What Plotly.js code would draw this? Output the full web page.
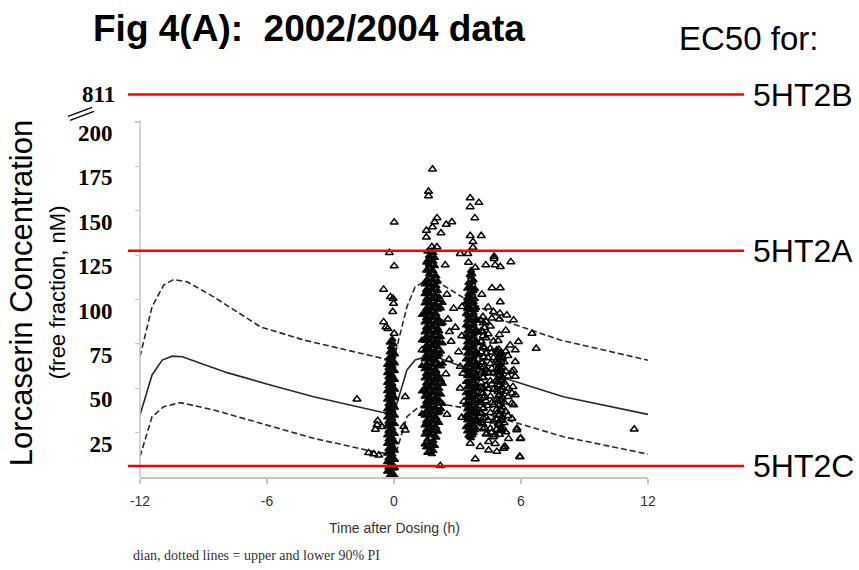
<!DOCTYPE html>
<html><head><meta charset="utf-8">
<script src="https://cdn.plot.ly/plotly-3.0.1.min.js"></script>
<style>html,body{margin:0;padding:0;background:#fff;} #chart{width:859px;height:570px;}</style>
</head><body><div id="chart"></div>
<script>
// ---- curves (model median and 90% prediction interval) ----
const medianTime = [-12, -11.43, -10.95, -10.48, -10.0, -7.88, -5.84, -3.8, -0.57, 0, 0.14, 0.61, 1.0, 1.4, 2.19, 3.45, 5.49, 8.0, 12];
const medianConc = [34.9, 57.5, 65.9, 68.1, 67.8, 58.8, 51.8, 45.2, 36.5, 35.3, 41.5, 60.3, 65.9, 67.4, 66.8, 61.2, 54.6, 45.2, 35.3];
const upperTime = [-12, -11.43, -10.88, -10.41, -9.77, -8.52, -6.31, -4.27, -0.57, 0, 0.14, 0.61, 1.0, 1.4, 2.19, 3.45, 5.34, 7.85, 12];
const upperConc = [67.8, 95.9, 108.1, 111.3, 110.0, 101.5, 84.6, 77.2, 66.9, 65.5, 73.4, 95.9, 107.1, 110.0, 109.0, 99.7, 87.4, 77.2, 65.8];
const lowerTime = [-12, -11.43, -10.88, -10.09, -8.52, -6.31, -3.8, -0.96, 0, 0.14, 0.61, 1.09, 1.56, 2.5, 3.45, 5.34, 8.0, 12];
const lowerConc = [11.5, 34.0, 39.6, 41.9, 37.8, 30.3, 21.8, 14.3, 12.6, 15.3, 34.0, 38.7, 41.1, 40.6, 38.7, 32.1, 22.7, 12.9];

// ---- observations: isolated points ----
const scatterTime = [1.82,1.63,1.63,0.01,2.03,1.92,1.82,2.47,2.73,1.53,1.53,2.22,1.79,2.03,3.6,4.01,3.6,3.82,3.6,4.12,3.73,3.73,3.13,3.49,4.73,4.73,5.52,2.42,3.52,3.84,4.34,4.78,5.02,2.5,4.63,5.02,5.02,4.15,2.82,3.21,5.0,5.33,5.65,2.62,1.32,3.13,3.13,0.53,0.46,0.53,2.19,3.84,3.6,4.07,4.47,4.86,5.25,4.39,4.78,5.1,5.57,5.81,5.49,5.73,5.57,5.41,5.57,6.52,6.72,5.88,5.73,5.65,5.73,5.65,5.8,5.99,5.21,5.93,11.35,-1.75,-0.77,-0.8,-0.88,-0.57,-1.2,-0.96,-0.72,-0.22,0.01,-0.49,-0.17,-0.05,-0.02,-0.06,-0.49,-0.38,-0.29,0.01,5.73,5.62,5.57,5.96,5.96,5.18,4.47,4.78,5.41,
  2.55,2.7,2.9,3.05,3.25,2.6,3.2,2.45,3.3,3.2,2.5];
const scatterConc = [173.4,160.9,158.4,143.5,146,143.7,140.9,142.3,143.7,138.9,135.1,137.5,129.6,129.6,157.2,154.6,152.2,146,135.9,135.9,132.5,129.3,125.8,125.8,124.3,123,121.2,119.4,120.9,118,119.4,119.4,118.5,102.9,106.5,106.5,98.6,102.9,95,95.9,92.2,91.2,88.4,81.8,71.5,62.2,50,45.2,28.4,26.4,6.4,10.1,18.9,17.1,19.9,14.3,17.1,24.6,23.7,26.5,33,27.4,74.3,71.5,59.3,49.9,41.5,80.9,72.4,76.2,64.9,60.2,46.2,40.6,26.5,21.8,17.1,11.5,26.9,43.8,31.7,29.3,26.8,28.3,13.6,13,12.2,126.3,118.9,105.7,101.5,100.6,97.8,93.1,87.4,84.5,83.6,80.9,56.6,50.9,47.2,21.6,11.3,16,15.1,18.8,21.6,
  88.9,76.3,84.2,70.5,58.3,66.2,79.4,58.1,42.6,33.5,35.2];

// ---- observations: saturated sampling cores (time of strand, concentrations along it) ----
const coreTime = [-0.32, -0.26, -0.2, -0.14, -0.08, -0.02, 0.04,
  1.32, 1.45, 1.52, 1.58, 1.65, 1.72, 1.79, 1.86, 1.93, 2.0, 2.07, 2.14, 2.22, 2.3,
  3.4, 3.46, 3.52, 3.58, 3.64, 3.7, 3.76, 3.82, 3.88, 3.94, 4.0];
const coreConc = [
  [3.1, 8.4, 13.2, 18.7, 23.5, 28.9, 33.6, 38.2, 43.7, 48.5, 53.1, 58.6, 63.2],
  [5.4, 10.6, 15.9, 21.2, 26.1, 31.3, 36.4, 41.1, 46.2, 51.2, 56.3, 61.4, 66.8],
  [0.8, 5.6, 10.9, 15.3, 20.8, 25.7, 30.4, 35.9, 40.6, 45.2, 50.7, 55.4, 60.9, 65.5, 70.3, 75.8],
  [3.2, 8.1, 13.4, 18.2, 23.1, 28.3, 33.2, 38.4, 43.1, 48.3, 53.4, 58.3, 63.5, 68.2, 73.4],
  [2.4, 7.3, 12.8, 17.6, 22.1, 27.4, 32.9, 37.5, 42.3, 47.8, 52.6, 57.2, 62.7, 67.9, 72.5, 77.6],
  [0.3, 4.8, 10.2, 15.1, 20.2, 25.1, 30.2, 35.3, 40.1, 45.6, 50.1, 55.2, 60.1, 65.2, 70.1, 74.8],
  [0.5, 5.2, 9.7, 14.9, 19.6, 24.3, 29.8, 34.6, 39.1, 44.4, 49.3, 54.8, 59.7, 64.1, 69.2],
  [35.6, 48.3, 62.7, 77.1, 91.4],
  [18.4, 23.9, 29.1, 34.6, 39.8, 45.3, 50.2, 55.7, 60.9, 66.4, 71.3, 76.8, 81.6, 87.2, 92.5, 97.9, 103.1, 108.6],
  [16.7, 26.4, 31.6, 37.1, 42.5, 47.7, 52.8, 58.2, 63.4, 68.7, 73.9, 79.1, 84.2, 89.6, 94.8, 100.2, 105.5, 110.7, 116.4, 120.9],
  [13.6, 21.2, 26.5, 31.8, 37.3, 42.4, 47.9, 53.1, 58.5, 63.6, 69.1, 74.2, 79.5, 84.8, 90.1, 95.3, 100.7, 105.9, 111.2, 116.5, 121.8, 127.1],
  [18.9, 24.3, 29.8, 35.2, 40.4, 45.7, 51.1, 56.3, 61.8, 66.9, 72.2, 77.6, 82.7, 88.1, 93.3, 98.6, 103.8, 109.2, 114.3, 119.7, 124.6],
  [16.1, 23.7, 28.8, 34.1, 39.5, 44.7, 50.1, 55.4, 60.6, 65.9, 71.2, 76.5, 81.9, 87.1, 92.4, 97.6, 102.9, 108.3, 113.6, 118.8, 124.1],
  [12.9, 19.1, 26.9, 31.7, 37.2, 42.3, 47.6, 53.0, 58.1, 63.5, 68.8, 74.1, 79.3, 84.6, 89.9, 95.2, 100.4, 105.8, 111.1, 116.3, 121.7, 127.4],
  [14.8, 20.4, 25.7, 31.2, 36.4, 41.8, 47.2, 52.5, 57.8, 63.1, 68.4, 73.6, 78.9, 84.3, 89.6, 94.8, 100.1, 105.4, 110.7, 116.1, 121.4, 126.3],
  [17.6, 23.1, 28.4, 33.8, 39.1, 44.4, 49.8, 55.1, 60.4, 65.7, 71.0, 76.3, 81.6, 86.9, 92.2, 97.4, 102.8, 108.1, 113.4, 118.9, 123.5],
  [22.3, 27.9, 33.4, 38.6, 44.1, 49.3, 54.7, 59.9, 65.3, 70.6, 75.8, 81.2, 86.5, 91.7, 97.1, 102.4, 107.6, 113.1],
  [25.6, 30.8, 36.1, 41.4, 46.7, 52.1, 57.3, 62.7, 67.9, 73.2, 78.6, 83.8, 89.1, 94.4, 99.7, 104.9, 110.3],
  [30.5, 36.9, 43.4, 49.8, 56.2, 62.7, 69.1, 75.6, 82.1, 88.4, 94.9, 101.3],
  [38.3, 46.5, 54.6, 62.4, 70.7, 78.9, 86.2, 95.1],
  [41.2, 52.6, 63.9, 75.3, 86.8, 98.2],
  [28.2, 34.5, 40.9, 47.3, 53.6, 60.1, 66.4, 72.8, 79.2, 85.5, 91.9, 98.3],
  [25.8, 31.9, 38.2, 44.5, 50.7, 57.0, 63.3, 69.6, 75.9, 82.1, 88.4, 94.7, 100.9, 106.2],
  [23.4, 29.3, 35.7, 41.6, 47.8, 53.9, 60.2, 66.3, 72.5, 78.6, 84.8, 90.9, 97.2, 103.3, 109.5],
  [22.6, 28.1, 34.2, 40.3, 46.4, 52.5, 58.7, 64.8, 70.9, 77.1, 83.2, 89.4, 95.5, 101.7, 107.9, 113.8],
  [21.9, 26.1, 32.4, 38.5, 44.7, 50.8, 57.1, 63.2, 69.4, 75.5, 81.7, 87.9, 94.1, 100.2, 106.4, 112.6, 116.3],
  [23.5, 29.4, 35.6, 41.8, 47.9, 54.1, 60.3, 66.5, 72.6, 78.8, 84.9, 91.1, 97.3, 103.4, 109.6, 114.2],
  [24.8, 30.9, 37.1, 43.2, 49.4, 55.6, 61.7, 67.9, 74.1, 80.3, 86.4, 92.6, 98.7, 104.9, 110.8],
  [26.3, 32.5, 38.7, 44.9, 51.0, 57.2, 63.4, 69.5, 75.7, 81.9, 88.0, 94.2, 100.4, 106.1],
  [27.5, 33.6, 39.8, 46.1, 52.3, 58.4, 64.6, 70.8, 76.9, 83.1, 89.3, 95.4],
  [36.2, 49.5, 62.1, 75.3, 88.1],
  [31.2, 42.5, 55.3, 68.7, 81.4]
];
// ---- observations: looser band after the 4 h samples ----
const bandTime = [4.1, 4.12, 4.2, 4.22, 4.28, 4.35, 4.45, 4.55, 4.62, 4.7, 4.85, 4.92, 4.95, 4.98, 5.05, 5.06, 5.12, 5.2, 5.28, 5.38];
const bandConc = [
  [35.6, 50.3, 61.8, 76.4, 88.2],
  [30.4, 36.1, 41.8, 47.5, 53.3, 58.9, 64.7, 70.4, 76.2, 82.3],
  [29.8, 38.4, 47.1, 55.9, 64.6, 73.2, 81.7, 90.3],
  [27.1, 33.2, 38.9, 44.6, 50.4, 56.1, 61.8, 67.6, 73.3, 79.5, 86.8],
  [27.9, 45.6, 58.3, 72.7, 84.1],
  [24.1, 33.5, 42.8, 51.6, 60.4, 69.7, 78.3, 87.6],
  [31.8, 40.2, 49.7, 58.8, 67.1, 80.6, 95.7],
  [27.3, 36.2, 45.5, 54.1, 63.8, 72.4, 84.9],
  [25.1, 41.9, 52.3, 61.2, 70.3, 89.4],
  [22.6, 31.4, 40.7, 49.3, 58.6, 67.2, 76.5, 93.1],
  [26.8, 32.4, 38.1, 43.6, 49.2, 54.7, 60.3, 65.8, 71.4],
  [30.1, 36.7, 42.9, 48.1, 53.8, 59.2, 64.5, 70.2, 76.8],
  [29.4, 34.8, 40.1, 45.5, 50.9, 56.2, 61.6, 67.0, 71.8],
  [23.9, 29.6, 35.2, 40.8, 46.3, 51.9, 57.4, 63.1, 68.7, 80.2, 88.9],
  [26.2, 31.9, 37.6, 43.4, 49.1, 54.6, 60.7, 66.1],
  [27.2, 32.6, 37.9, 43.2, 48.7, 54.1, 59.4, 64.8, 70.1],
  [28.1, 33.7, 39.4, 44.9, 50.6, 56.2, 61.8, 67.3],
  [30.6, 42.1, 53.4, 64.8],
  [25.4, 36.8, 48.2, 59.5, 70.9, 82.6],
  [34.5, 45.2, 56.7, 68.3]
];

// ---- EC50 reference lines ----
const ec50Labels = ['5HT2B', '5HT2A', '5HT2C'];
const ec50Values = [811, 127.5, 6.2];
const yTickVals = [25, 50, 75, 100, 125, 150, 175, 200];
const xTickVals = [-12, -6, 0, 6, 12];

// axis break: values above the top of the axis are drawn at this position
const AXIS_TOP = 200, BREAK_POS = 215.5;
function shownY(v) { return v > AXIS_TOP ? BREAK_POS : v; }

function flatten(times, concs) {
  const xs = [], ys = [];
  times.forEach((t, i) => concs[i].forEach(c => { xs.push(t); ys.push(c); }));
  return {xs, ys};
}
const core = flatten(coreTime, coreConc);
const band = flatten(bandTime, bandConc);
const openX = scatterTime.concat(band.xs), openY = scatterConc.concat(band.ys);

const curveLine = {color: '#2a2a2a', width: 1.6};
const traces = [
  {x: upperTime, y: upperConc, mode: 'lines', line: Object.assign({dash: '6px,3px'}, curveLine), hoverinfo: 'skip'},
  {x: lowerTime, y: lowerConc, mode: 'lines', line: Object.assign({dash: '6px,3px'}, curveLine), hoverinfo: 'skip'},
  {x: medianTime, y: medianConc, mode: 'lines', line: curveLine, hoverinfo: 'skip'},
  {x: core.xs, y: core.ys, mode: 'markers', marker: {symbol: 'triangle-up', size: 6.5, color: '#0a0a0a', line: {width: 1.2, color: '#0a0a0a'}}},
  {x: openX, y: openY, mode: 'markers', marker: {symbol: 'triangle-up-open', size: 7, color: '#000', line: {width: 1.5, color: '#000'}}}
];

const W = 859, H = 570;
const L = 140, R = 211, T = 82.6, B = 92.9;
const plotW = W - L - R, plotH = H - T - B;
const px2paperX = p => (p - L) / plotW;
const px2paperY = p => (H - B - p) / plotH;

const shapes = [
  {type: 'line', xref: 'paper', yref: 'y', x0: 0, x1: 0, y0: 0, y1: AXIS_TOP + 1, line: {color: '#c4c4c4', width: 1.5}},
  {type: 'line', xref: 'paper', yref: 'paper', x0: px2paperX(68), x1: px2paperX(92), y0: px2paperY(116), y1: px2paperY(107), line: {color: '#000', width: 1.3}},
  {type: 'line', xref: 'paper', yref: 'paper', x0: px2paperX(70), x1: px2paperX(94), y0: px2paperY(120), y1: px2paperY(111), line: {color: '#000', width: 1.3}}
];
const annotations = [
  {xref: 'paper', yref: 'paper', x: px2paperX(677), y: px2paperY(38), xanchor: 'left', yanchor: 'middle', showarrow: false,
   text: 'EC50 for:', font: {family: 'Liberation Sans, Arial', size: 33, color: '#000'}},
  {xref: 'paper', yref: 'paper', x: px2paperX(21), y: px2paperY(293), textangle: -90, xanchor: 'center', yanchor: 'middle', showarrow: false,
   text: 'Lorcaserin Concentration', font: {family: 'Liberation Sans, Arial', size: 31, color: '#000'}},
  {xref: 'paper', yref: 'paper', x: px2paperX(57), y: px2paperY(292), textangle: -90, xanchor: 'center', yanchor: 'middle', showarrow: false,
   text: '(free fraction, nM)', font: {family: 'Liberation Sans, Arial', size: 22, color: '#000'}},
  {xref: 'paper', yref: 'paper', x: 0.5, y: px2paperY(528), xanchor: 'center', yanchor: 'middle', showarrow: false,
   text: 'Time after Dosing (h)', font: {family: 'Liberation Sans Narrow, Liberation Sans, Arial', size: 14, color: '#333'}},
  {xref: 'paper', yref: 'paper', x: px2paperX(131), y: px2paperY(556), xanchor: 'left', yanchor: 'middle', showarrow: false,
   text: 'dian, dotted lines = upper and lower 90% PI', font: {family: 'Liberation Serif, Times New Roman', size: 14, color: '#333'}},
  {xref: 'paper', yref: 'y', x: px2paperX(117), y: shownY(811), xanchor: 'right', yanchor: 'middle', showarrow: false,
   text: '<b>811</b>', font: {family: 'Liberation Serif, Times New Roman', size: 23, color: '#000'}}
];
ec50Values.forEach((v, i) => {
  shapes.push({type: 'line', layer: 'above', xref: 'paper', yref: 'y', x0: px2paperX(128), x1: px2paperX(744), y0: shownY(v), y1: shownY(v),
               line: {color: '#ff0000', width: 2.5}});
  annotations.push({xref: 'paper', yref: 'y', x: px2paperX(751), y: shownY(v), xanchor: 'left', yanchor: 'middle', showarrow: false,
                    text: ec50Labels[i], font: {family: 'Liberation Sans, Arial', size: 32, color: '#000'}});
});

const layout = {
  width: W, height: H, showlegend: false,
  paper_bgcolor: '#fff', plot_bgcolor: 'rgba(0,0,0,0)',
  margin: {l: L, r: R, t: T, b: B, pad: 0},
  title: {text: '<b>Fig 4(A):  2002/2004 data</b>', x: 93 / W, xanchor: 'left', xref: 'container', y: 1 - 28 / H, yanchor: 'middle', yref: 'container',
          font: {family: 'Liberation Sans, Arial', size: 37, color: '#000'}},
  xaxis: {range: [-12, 12], tickvals: xTickVals, ticktext: xTickVals.map(String), showgrid: false, zeroline: false,
          showline: true, linecolor: '#c4c4c4', linewidth: 1.5, ticks: 'outside', ticklen: 5, tickcolor: '#c4c4c4', tickwidth: 1.2,
          ticklabelstandoff: 6,
          tickfont: {family: 'Liberation Sans Narrow, Liberation Sans, Arial', size: 14, color: '#333'}, fixedrange: true},
  yaxis: {range: [0, 222], tickvals: yTickVals, ticktext: yTickVals.map(v => '<b>' + v + '</b>'), showgrid: false, zeroline: false,
          showline: false, ticks: 'outside', ticklen: 4, tickcolor: '#c4c4c4', tickwidth: 1.2,
          ticklabelshift: 11, ticklabelstandoff: 18,
          tickfont: {family: 'Liberation Serif, Times New Roman', size: 23, color: '#000'}, fixedrange: true},
  shapes: shapes, annotations: annotations
};
Plotly.newPlot('chart', traces, layout, {displayModeBar: false, staticPlot: true});
</script></body></html>
